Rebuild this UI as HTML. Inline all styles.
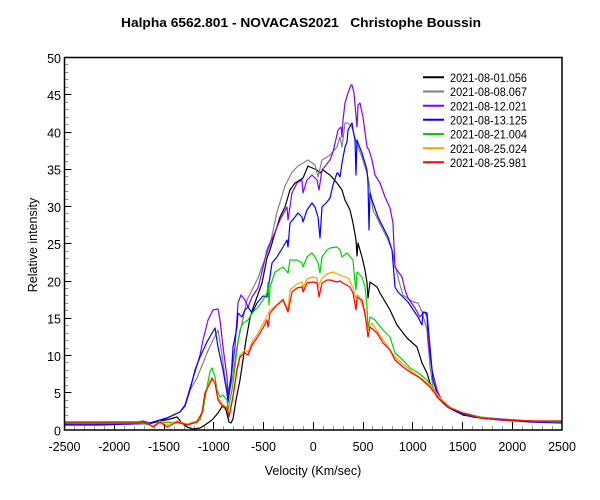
<!DOCTYPE html>
<html><head><meta charset="utf-8"><style>
html,body{margin:0;padding:0;background:#fff;}
svg{display:block;font-family:"Liberation Sans",Arial,sans-serif;}
</style></head><body>
<svg width="600" height="500" viewBox="0 0 600 500" xmlns="http://www.w3.org/2000/svg">
<rect width="600" height="500" fill="#fff"/>
<text x="121" y="27" font-size="13" font-weight="bold" textLength="360" lengthAdjust="spacingAndGlyphs" xml:space="preserve">Halpha 6562.801 - NOVACAS2021   Christophe Boussin</text>
<path fill="none" stroke="#999" stroke-width="1" d="M64.5 422.5h4M64.5 415.5h4M64.5 407.5h4M64.5 400.5h4M64.5 385.5h4M64.5 377.5h4M64.5 370.5h4M64.5 362.5h4M64.5 348.5h4M64.5 340.5h4M64.5 333.5h4M64.5 325.5h4M64.5 310.5h4M64.5 303.5h4M64.5 295.5h4M64.5 288.5h4M64.5 273.5h4M64.5 266.5h4M64.5 258.5h4M64.5 251.5h4M64.5 236.5h4M64.5 228.5h4M64.5 221.5h4M64.5 213.5h4M64.5 199.5h4M64.5 191.5h4M64.5 184.5h4M64.5 176.5h4M64.5 161.5h4M64.5 154.5h4M64.5 146.5h4M64.5 139.5h4M64.5 124.5h4M64.5 117.5h4M64.5 109.5h4M64.5 102.5h4M64.5 87.5h4M64.5 79.5h4M64.5 72.5h4M64.5 64.5h4
M74.5 430v-4M84.5 430v-4M94.5 430v-4M104.5 430v-4M124.5 430v-4M134.5 430v-4M144.5 430v-4M154.5 430v-4M174.5 430v-4M184.5 430v-4M194.5 430v-4M204.5 430v-4M223.5 430v-4M233.5 430v-4M243.5 430v-4M253.5 430v-4M273.5 430v-4M283.5 430v-4M293.5 430v-4M303.5 430v-4M323.5 430v-4M333.5 430v-4M343.5 430v-4M353.5 430v-4M372.5 430v-4M382.5 430v-4M392.5 430v-4M402.5 430v-4M422.5 430v-4M432.5 430v-4M442.5 430v-4M452.5 430v-4M472.5 430v-4M482.5 430v-4M492.5 430v-4M502.5 430v-4M522.5 430v-4M532.5 430v-4M542.5 430v-4M552.5 430v-4"/>
<path fill="none" stroke="#000" stroke-width="1" d="M64.5 392.5h7M64.5 355.5h7M64.5 318.5h7M64.5 281.5h7M64.5 243.5h7M64.5 206.5h7M64.5 169.5h7M64.5 132.5h7M64.5 94.5h7
M114.5 430v-8M164.5 430v-8M213.5 430v-8M263.5 430v-8M313.5 430v-8M363.5 430v-8M412.5 430v-8M462.5 430v-8M512.5 430v-8"/>
<defs><clipPath id="c"><rect x="64.5" y="57.5" width="497.5" height="372.5"/></clipPath></defs>
<g clip-path="url(#c)" fill="none" stroke-width="1.2" stroke-linejoin="round">
<polyline stroke="#000" points="65,424 100,424 130,424 150,423.5 160,421 170,419 177,417 182,423 187,427 193,429 200,428 205,425 212,420 218,413 223,405 226,410 229,422 231,423 233,419 236,400 240,380 243,360 246,340 250,318 253,308 257,297 262,283 267,258 270,250 275,233 280,217 285,207 290,190 295,183 300,180 303,178 308,166 310,167 317,170 320,173 323,170 327,173 330,175 337,183 342,190 345,200 350,210 353,223 356,240 357,256 358,243 362,257 365,270 367,283 368,298 370,282 377,287 380,293 390,310 397,325 407,338 417,347 422,363 427,373 430,383 437,397 447,407 463,415 480,418 500,420 530,421 562,422"/>
<polyline stroke="#808080" points="65,424 100,424 150,423 167,418 180,412 185,405 190,390 197,378 207,353 213,340 218,330 222,355 226,385 228,397 232,380 237,347 242,323 247,300 253,288 258,278 263,264 270,245 277,212 285,186 292,172 298,166 308,160 315,165 318,177 322,160 327,157 330,155 337,147 340,137 342,147 345,123 348,123 352,127 355,138 358,147 362,157 365,167 368,177 370,190 373,210 378,220 383,230 388,240 392,250 395,265 400,285 403,295 413,302 418,303 422,312 427,330 430,367 433,387 438,398 447,407 463,413 480,417 500,419 530,421 562,422"/>
<polyline stroke="#8000ff" points="65,424 100,424 135,423 143,421 150,423 167,418 180,412 185,405 190,388 195,372 200,355 203,340 208,320 213,310 218,309 220,320 223,347 227,377 228,395 232,370 235,347 238,303 241,295 245,300 248,307 252,297 258,288 262,272 267,250 270,243 273,237 280,220 287,207 288,220 292,193 297,183 302,180 303,193 307,180 312,175 317,180 319,190 322,170 330,160 333,152 338,130 341,127 342,137 343,120 345,103 348,93 351,85 352,85 354,93 357,127 358,105 360,103 363,117 367,147 369,150 372,160 375,175 380,183 385,197 390,208 393,223 394,247 395,267 397,270 402,277 405,290 408,298 415,308 420,317 423,313 425,312 427,317 428,340 432,370 437,390 443,403 457,412 473,417 500,419 530,421 562,422"/>
<polyline stroke="#0000ff" points="65,425 100,425 130,424 150,423 167,418 180,412 185,406 190,390 195,370 200,357 207,342 212,333 215,328 218,347 223,370 227,393 228,402 231,380 233,347 237,327 238,313 242,317 245,310 248,307 252,313 257,303 263,296 267,297 268,290 272,263 277,257 283,247 287,240 288,247 290,223 295,217 298,213 302,217 303,222 307,210 312,203 315,207 318,217 320,238 322,207 327,202 330,198 333,185 337,173 338,173 340,177 342,163 345,147 347,142 348,130 352,123 353,130 355,140 356,175 357,140 358,143 362,153 365,163 367,170 368,183 369,230 370,193 373,203 378,217 383,227 388,237 392,250 395,287 398,292 403,297 408,302 412,308 418,317 422,325 423,312 427,313 430,347 433,380 437,393 443,403 457,412 473,417 500,420 530,422 562,423"/>
<polyline stroke="#00d000" points="65,423 100,423 140,423 150,425 153,427 158,423 167,422 180,423 187,424 197,422 200,420 203,410 207,387 210,372 212,368 215,377 217,390 220,397 223,395 227,400 228,410 232,390 235,367 238,342 240,330 243,323 248,320 253,312 258,307 263,300 267,293 268,283 269,305 270,287 275,272 283,267 288,273 290,260 297,260 302,263 303,267 307,257 312,253 315,257 318,263 320,273 322,257 327,250 330,248 337,247 340,250 342,257 347,253 353,260 355,283 356,290 357,272 362,277 365,287 367,307 368,330 370,317 375,320 383,330 390,337 395,353 403,360 410,368 417,372 427,380 433,388 440,398 450,408 463,413 480,417 500,420 530,421 562,422"/>
<polyline stroke="#ffa000" points="65,422 100,422 145,422 153,426 160,421 167,425 177,421 187,424 197,421 202,412 205,393 210,381 213,380 215,383 218,398 223,405 227,407 229,415 233,395 237,368 240,355 245,350 248,352 252,342 257,335 263,324 267,316 270,310 277,305 283,299 288,310 290,290 297,284 302,282 303,288 307,279 313,277 317,278 318,287 322,278 327,274 333,272 340,275 348,278 353,287 355,297 358,295 363,307 368,330 372,323 383,340 395,357 410,370 430,385 440,398 450,407 463,413 480,418 500,420 530,421 562,421"/>
<polyline stroke="#ff0000" points="65,422 100,422 145,422 153,427 160,422 167,427 177,422 187,425 197,422 202,413 205,393 210,383 212,378 215,383 218,400 223,407 227,408 229,417 233,397 237,370 240,357 245,353 248,355 252,345 257,338 263,328 267,320 268,327 270,313 277,305 283,300 288,312 292,292 297,288 302,287 303,292 307,283 313,282 317,283 319,297 322,283 327,280 330,280 337,282 340,281 343,283 350,287 353,293 356,310 357,297 362,300 365,313 368,337 370,327 377,333 383,343 390,350 395,360 403,367 410,372 420,378 430,387 440,400 450,408 463,413 480,418 500,420 530,421 562,421"/>
</g>
<rect x="64.5" y="57.5" width="497.5" height="372.5" fill="none" stroke="#000" stroke-width="1.5"/>
<g font-size="12">
<line x1="423" y1="77.3" x2="444" y2="77.3" stroke="#000" stroke-width="2"/>
<text x="450" y="82" textLength="77" lengthAdjust="spacingAndGlyphs">2021-08-01.056</text>
<line x1="423" y1="91.5" x2="444" y2="91.5" stroke="#808080" stroke-width="2"/>
<text x="450" y="96.2" textLength="77" lengthAdjust="spacingAndGlyphs">2021-08-08.067</text>
<line x1="423" y1="105.7" x2="444" y2="105.7" stroke="#8000ff" stroke-width="2"/>
<text x="450" y="110.4" textLength="77" lengthAdjust="spacingAndGlyphs">2021-08-12.021</text>
<line x1="423" y1="119.8" x2="444" y2="119.8" stroke="#0000ff" stroke-width="2"/>
<text x="450" y="124.5" textLength="77" lengthAdjust="spacingAndGlyphs">2021-08-13.125</text>
<line x1="423" y1="134" x2="444" y2="134" stroke="#00d000" stroke-width="2"/>
<text x="450" y="138.7" textLength="77" lengthAdjust="spacingAndGlyphs">2021-08-21.004</text>
<line x1="423" y1="148.2" x2="444" y2="148.2" stroke="#ffa000" stroke-width="2"/>
<text x="450" y="152.9" textLength="77" lengthAdjust="spacingAndGlyphs">2021-08-25.024</text>
<line x1="423" y1="162.3" x2="444" y2="162.3" stroke="#ff0000" stroke-width="2"/>
<text x="450" y="167" textLength="77" lengthAdjust="spacingAndGlyphs">2021-08-25.981</text>
</g>
<g font-size="12.5" text-anchor="end">
<text x="61" y="63">50</text>
<text x="61" y="100.2">45</text>
<text x="61" y="137.5">40</text>
<text x="61" y="174.7">35</text>
<text x="61" y="212">30</text>
<text x="61" y="249.2">25</text>
<text x="61" y="286.5">20</text>
<text x="61" y="323.7">15</text>
<text x="61" y="361">10</text>
<text x="61" y="398.2">5</text>
<text x="61" y="435.5">0</text>
</g>
<g font-size="12.5" text-anchor="middle">
<text x="64.5" y="451">-2500</text>
<text x="114.25" y="451">-2000</text>
<text x="164" y="451">-1500</text>
<text x="213.75" y="451">-1000</text>
<text x="263.5" y="451">-500</text>
<text x="313.25" y="451">0</text>
<text x="363" y="451">500</text>
<text x="412.75" y="451">1000</text>
<text x="462.5" y="451">1500</text>
<text x="512.25" y="451">2000</text>
<text x="562" y="451">2500</text>
</g>
<text x="313" y="475" font-size="12.5" text-anchor="middle">Velocity (Km/sec)</text>
<text transform="translate(37,245) rotate(-90)" font-size="12.5" text-anchor="middle">Relative intensity</text>
</svg>
</body></html>
